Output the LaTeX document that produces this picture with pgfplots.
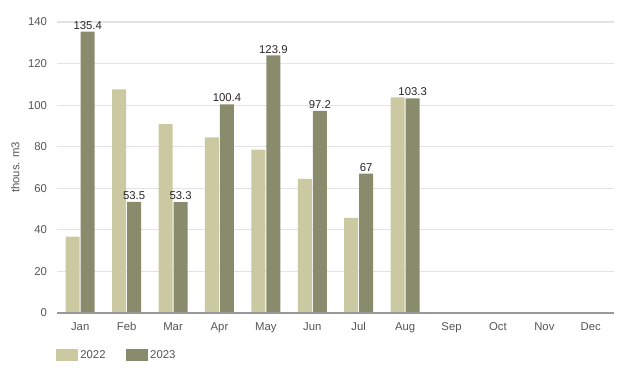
\documentclass[border=0pt]{standalone}
\usepackage{fontspec}
\setmainfont{Liberation Sans}
\usepackage{pgfplots}
\pgfplotsset{compat=1.18}
\definecolor{cA}{HTML}{CBC9A1}
\definecolor{cB}{HTML}{898C6C}
\definecolor{gridc}{HTML}{E3E3E3}
\definecolor{txt}{HTML}{555555}
\begin{document}
\begin{tikzpicture}
\begin{axis}[
  scale only axis,
  width=417.75pt, height=218.25pt,
  ybar=0.75pt, bar width=10.5pt,
  xmin=-0.5, xmax=11.5,
  ymin=0, ymax=140,
  xtick={0,...,11},
  xticklabels={Jan,Feb,Mar,Apr,May,Jun,Jul,Aug,Sep,Oct,Nov,Dec},
  ytick={0,20,...,140},
  ymajorgrids, grid style={gridc, line width=0.8pt},
  axis line style={draw=none},
  axis x line*=bottom, axis y line*=left,
  major tick length=0pt,
  tick label style={font=\fontsize{8.5}{10}\selectfont, text=txt},
  /pgf/number format/assume math mode=true,
  xticklabel style={yshift=-1pt, text height=1.6ex, text depth=0.3ex},
  yticklabel style={xshift=-4pt},
  ylabel={thous. m3},
  ylabel style={font=\fontsize{8.5}{10}\selectfont, text=txt, at={(axis description cs:-0.075,0.5)}, anchor=center},
  legend style={at={(-0.01,-0.109)}, anchor=north west, draw=none, font=\fontsize{8.5}{10}\selectfont, text=txt,
     /tikz/every even column/.append style={column sep=13pt}},
  legend columns=2,
  legend image code/.code={\fill[#1] (0pt,-4.5pt) rectangle (16.5pt,4.5pt);},
  clip=false,
]
\addplot[fill=cA, draw=none] coordinates {(0,36.7) (1,107.6) (2,90.9) (3,84.5) (4,78.6) (5,64.5) (6,45.8) (7,103.8)};
\addplot[fill=cB, draw=none, nodes near coords, nodes near coords style={font=\fontsize{8.5}{10}\selectfont, text=black!85, inner sep=1.5pt}]
  coordinates {(0,135.4) (1,53.5) (2,53.3) (3,100.4) (4,123.9) (5,97.2) (6,67) (7,103.3)};
\legend{2022,2023}
\draw[color=black!40, line width=1pt] (axis cs:-0.5,0) -- (axis cs:11.5,0);
\end{axis}
\pgfresetboundingbox
\path (-42.75pt,-47.25pt) rectangle (425.25pt,234.75pt);
\end{tikzpicture}
\end{document}
